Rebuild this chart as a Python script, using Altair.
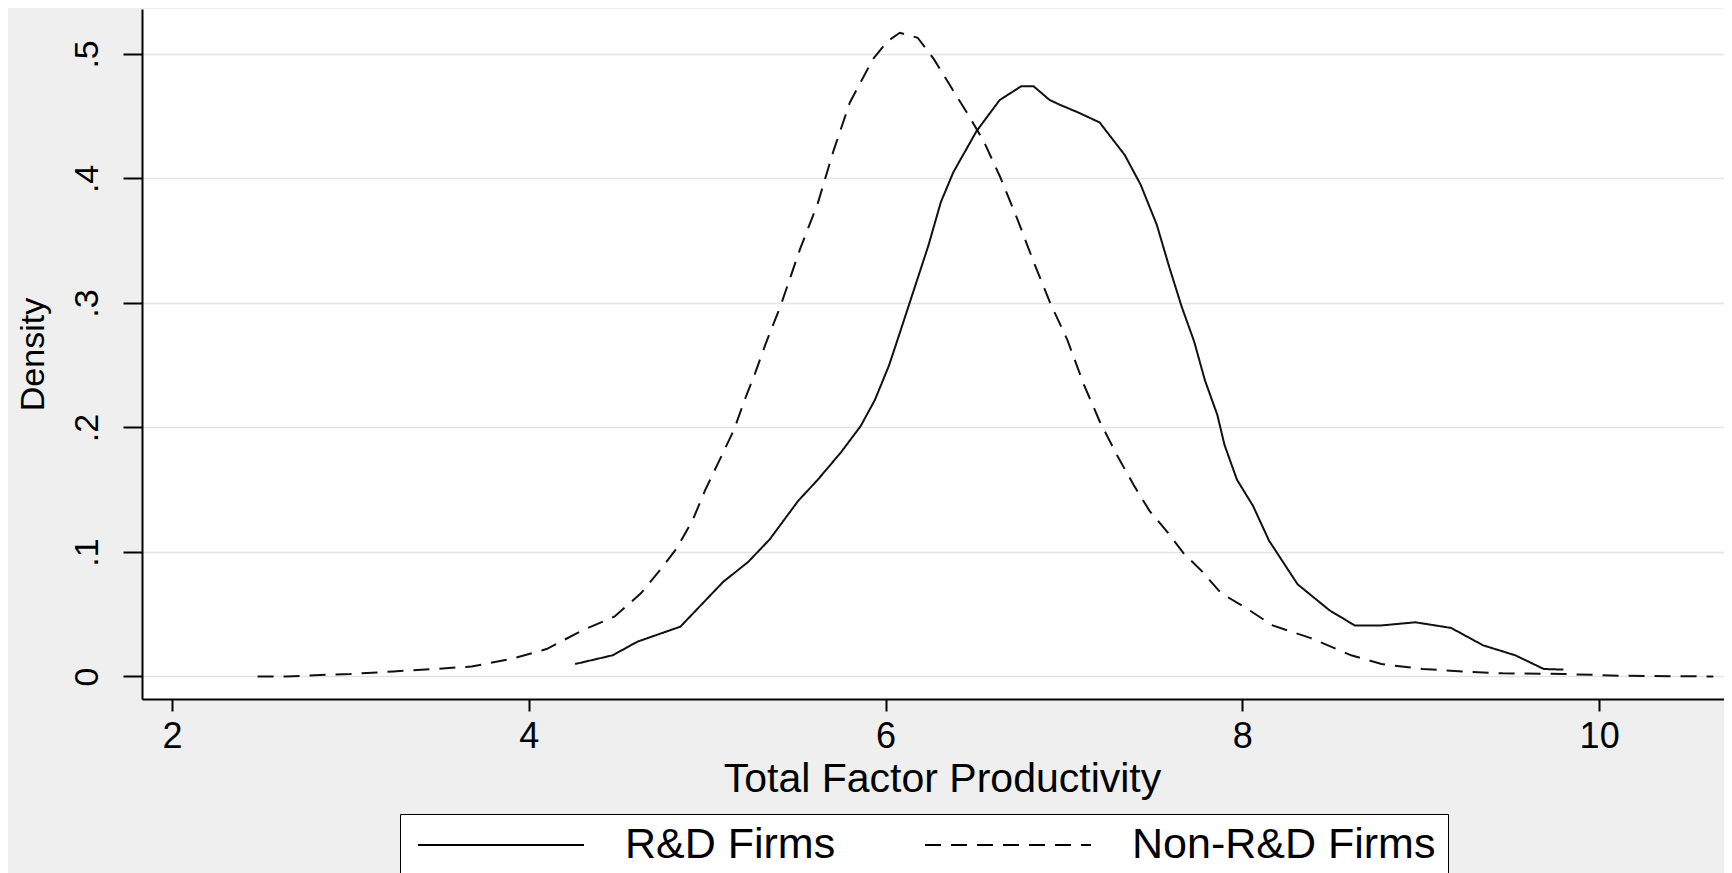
import altair as alt
import pandas as pd

# Non-R&D firms (dashed) kernel density
non_x = [2.48, 2.64, 2.80, 3.00, 3.24, 3.47, 3.68, 3.90, 4.10, 4.30, 4.48, 4.63, 4.75, 4.83,
         4.92, 4.99, 5.07, 5.15, 5.21, 5.27, 5.33, 5.41, 5.52, 5.62, 5.71, 5.80, 5.93, 6.01,
         6.08, 6.18, 6.27, 6.36, 6.46, 6.55, 6.64, 6.74, 6.83, 6.92, 7.02, 7.11, 7.20, 7.30,
         7.39, 7.48, 7.58, 7.67, 7.77, 7.88, 8.02, 8.17, 8.38, 8.61, 8.78, 9.01, 9.24, 9.46,
         9.80, 10.14, 10.64]
non_y = [0.000, 0.000, 0.001, 0.002, 0.004, 0.006, 0.008, 0.014, 0.022, 0.037, 0.048, 0.067,
         0.088, 0.103, 0.126, 0.150, 0.174, 0.198, 0.222, 0.244, 0.268, 0.297, 0.343, 0.380,
         0.423, 0.461, 0.496, 0.510, 0.517, 0.513, 0.496, 0.475, 0.452, 0.430, 0.402, 0.367,
         0.333, 0.301, 0.270, 0.235, 0.205, 0.177, 0.154, 0.133, 0.116, 0.099, 0.085, 0.067,
         0.055, 0.041, 0.031, 0.017, 0.010, 0.006, 0.004, 0.0025, 0.002, 0.0005, 0.000]

# R&D firms (solid) kernel density
rd_x = [4.26, 4.47, 4.61, 4.85, 4.99, 5.09, 5.23, 5.35, 5.51, 5.62, 5.75, 5.86, 5.94, 6.02,
        6.08, 6.16, 6.24, 6.31, 6.38, 6.51, 6.64, 6.76, 6.83, 6.92, 6.98, 7.08, 7.20, 7.34,
        7.43, 7.52, 7.59, 7.66, 7.73, 7.79, 7.86, 7.90, 7.97, 8.06, 8.15, 8.31, 8.49, 8.63,
        8.78, 8.97, 9.17, 9.35, 9.53, 9.69, 9.80]
rd_y = [0.010, 0.017, 0.028, 0.040, 0.061, 0.076, 0.092, 0.110, 0.141, 0.158, 0.180, 0.201,
        0.222, 0.250, 0.276, 0.311, 0.346, 0.381, 0.405, 0.438, 0.463, 0.474, 0.474, 0.463,
        0.459, 0.453, 0.445, 0.419, 0.395, 0.363, 0.329, 0.297, 0.269, 0.238, 0.210, 0.186,
        0.158, 0.137, 0.109, 0.074, 0.053, 0.041, 0.041, 0.0435, 0.039, 0.025, 0.017, 0.006,
        0.0055]

series = ["R&D Firms", "Non-R&D Firms"]
x_ticks = [2, 4, 6, 8, 10]
y_ticks = [0, 0.1, 0.2, 0.3, 0.4, 0.5]

df = pd.concat([
    pd.DataFrame({"tfp": rd_x, "density": rd_y, "group": series[0]}),
    pd.DataFrame({"tfp": non_x, "density": non_y, "group": series[1]}),
], ignore_index=True)

FONT = "Liberation Sans"

chart = alt.Chart(df).mark_line(strokeWidth=2, color="#111111", clip=True).encode(
    x=alt.X("tfp:Q",
            scale=alt.Scale(domain=[1.832, 10.70], nice=False, zero=False),
            axis=alt.Axis(values=x_ticks, format="d", grid=False,
                          domainColor="black", domainWidth=2,
                          tickColor="black", tickWidth=2, tickSize=12,
                          labelFont=FONT, labelFontSize=36, labelColor="black",
                          labelBaseline="alphabetic", labelPadding=36,
                          title="Total Factor Productivity", titleFont=FONT,
                          titleFontSize=41, titleFontWeight="normal", titleColor="black",
                          titleX=800, titleY=92, titleAlign="center",
                          titleBaseline="alphabetic")),
    y=alt.Y("density:Q",
            scale=alt.Scale(domain=[-0.0181, 0.5361], nice=False, zero=False),
            axis=alt.Axis(values=y_ticks,
                          labelExpr="datum.value == 0 ? '0' : '.' + format(datum.value*10, '.0f')",
                          grid=True, gridColor="#e4e4e4", gridWidth=1.5,
                          domainColor="black", domainWidth=2,
                          tickColor="black", tickWidth=2, tickSize=19,
                          labelFont=FONT, labelFontSize=34, labelColor="black",
                          labelAngle=270, labelAlign="center",
                          labelBaseline="alphabetic", labelPadding=26,
                          title="Density", titleFont=FONT, titleFontSize=34,
                          titleFontWeight="normal", titleColor="black",
                          titleAngle=270, titleX=-99, titleY=345,
                          titleAlign="center", titleBaseline="alphabetic")),
    strokeDash=alt.StrokeDash("group:N",
                              scale=alt.Scale(domain=series, range=[[1, 0], [16, 10]]),
                              legend=alt.Legend(
                                  title=None, orient="none", legendX=258, legendY=805,
                                  direction="horizontal", columns=2,
                                  fillColor="white", strokeColor="black", padding=12,
                                  symbolType="stroke", symbolSize=27556,
                                  symbolStrokeWidth=2, symbolStrokeColor="black",
                                  symbolOffset=5, clipHeight=38,
                                  labelFont=FONT, labelFontSize=43, labelColor="black",
                                  labelOffset=40, columnPadding=83, labelLimit=0)),
).properties(
    width=1582,
    height=690,
    autosize=alt.AutoSizeParams(type="none"),
    padding={"left": 134, "top": 1, "right": 0, "bottom": 174},
    background="#efefef",
).configure_view(
    fill="white",
    stroke=None,
)

chart.save("out.html", embed_options={"renderer": "svg", "actions": False})
